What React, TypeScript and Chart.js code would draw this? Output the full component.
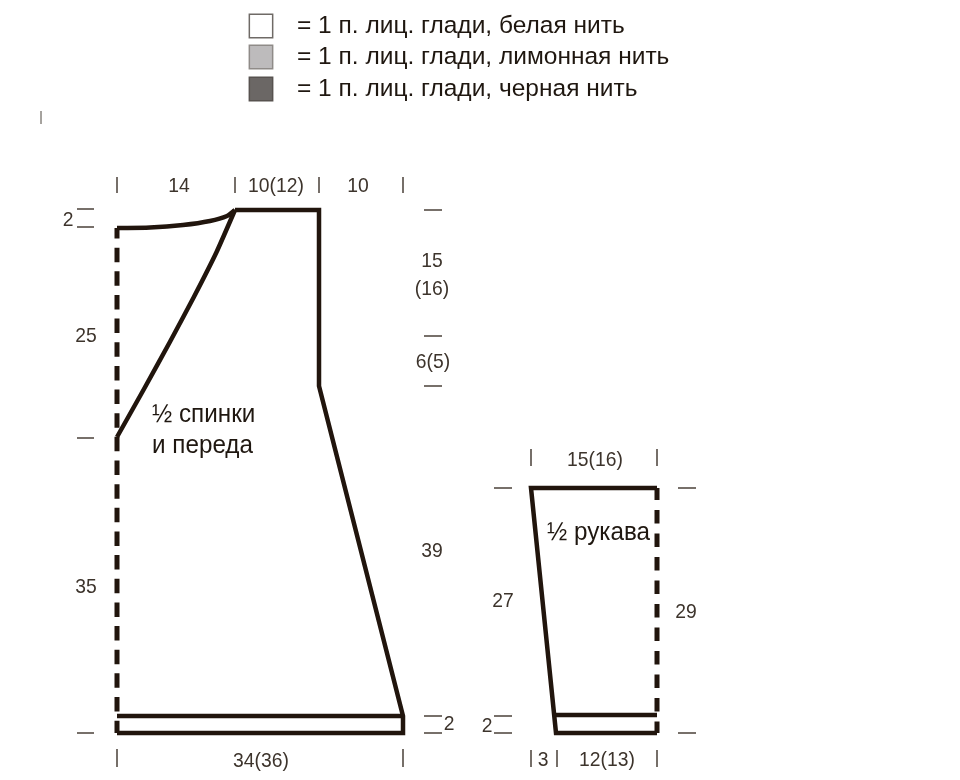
import React, { useEffect, useRef } from "react";
import { Chart, registerables } from "chart.js";

Chart.register(...registerables);

const W = 960;
const H = 780;
const INK = "#21150d";
const TICK = "#4a4038";
const TEXT = "#3d342c";
const DARK = "#1f1710";

// garment outlines (drawing units)
const backOutlineX = [235, 319, 319, 403, 403, 117];
const backOutlineY = [210, 210, 386, 716, 733, 733];
const hemX = [117, 403];
const hemY = [716, 716];
const neckX = [117, 150, 183, 210, 227, 235];
const neckY = [228, 227.5, 225, 221, 216, 210];
const armholeX = [235, 216.7, 194, 170, 144, 117];
const armholeY = [210, 251.7, 296.7, 341.7, 389, 437];
const foldX = [117, 117];
const foldY = [228, 733];
const sleeveX = [657, 531, 556, 657];
const sleeveY = [488, 488, 733, 733];
const sleeveHemX = [556, 657];
const sleeveHemY = [715, 715];
const sleeveFoldX = [657, 657];
const sleeveFoldY = [488, 733];

// dimension ticks: [x1, y1, x2, y2]
const dimensionTicks = [
  [117, 177, 117, 193], [235, 177, 235, 193], [319, 177, 319, 193], [403, 177, 403, 193],
  [77, 209, 94, 209], [77, 227, 94, 227], [77, 438, 94, 438], [77, 733, 94, 733],
  [424, 210, 442, 210], [424, 336, 442, 336], [424, 386, 442, 386],
  [424, 716, 442, 716], [424, 733, 442, 733],
  [117, 749, 117, 767], [403, 749, 403, 767],
  [531, 449, 531, 466], [657, 449, 657, 466],
  [494, 488, 512, 488], [678, 488, 696, 488], [678, 733, 696, 733],
  [494, 716, 512, 716], [494, 733, 512, 733],
  [531, 750, 531, 767], [557, 750, 557, 767], [657, 750, 657, 767],
];
const strayMark = [41, 111, 41, 124];

// legend
const legendLabels = [
  "= 1 п. лиц. глади, белая нить",
  "= 1 п. лиц. глади, лимонная нить",
  "= 1 п. лиц. глади, черная нить",
];
const legendSwatchX = [261, 261, 261];
const legendSwatchY = [26, 57, 89];
const legendFills = ["#ffffff", "#bdbbbc", "#6b6765"];
const legendStrokes = ["#6f6a66", "#8f8b88", "#57524f"];

const dimensionLabels: [string, number, number][] = [
  ["14", 179, 186], ["10(12)", 276, 186], ["10", 358, 186],
  ["2", 68, 220], ["25", 86, 336], ["35", 86, 587],
  ["15", 432, 261], ["(16)", 432, 289], ["6(5)", 433, 362], ["39", 432, 551],
  ["2", 449, 724], ["34(36)", 261, 761],
  ["15(16)", 595, 460], ["27", 503, 601], ["29", 686, 612], ["2", 487, 726],
  ["3", 543, 760], ["12(13)", 607, 760],
];
const partLabels: [string, number, number][] = [
  ["½ спинки", 152, 415], ["и переда", 152, 446], ["½ рукава", 547, 533],
];

const zip = (xs: number[], ys: number[]) => xs.map((x, i) => ({ x, y: ys[i] }));
const line = (data: { x: number; y: number }[], extra: object = {}) => ({
  type: "scatter" as const,
  data,
  showLine: true,
  pointRadius: 0,
  borderColor: INK,
  borderWidth: 4.5,
  borderJoinStyle: "miter" as const,
  ...extra,
});

export default function App() {
  const ref = useRef<HTMLCanvasElement>(null);
  useEffect(() => {
    const textPlugin = {
      id: "schematicText",
      afterDatasetsDraw(chart: any) {
        const { ctx, scales } = chart;
        ctx.save();
        ctx.textBaseline = "middle";
        const put = (
          t: string, x: number, y: number, align: CanvasTextAlign,
          size: number, stretch: number, color: string
        ) => {
          ctx.save();
          ctx.font = `${size}px "Liberation Sans", Arial, sans-serif`;
          ctx.fillStyle = color;
          ctx.textAlign = align;
          ctx.translate(scales.x.getPixelForValue(x), scales.y.getPixelForValue(y));
          ctx.scale(stretch, 1);
          ctx.fillText(t, 0, 0);
          ctx.restore();
        };
        dimensionLabels.forEach(([t, x, y]) => put(t, x, y, "center", 21, 0.92, TEXT));
        partLabels.forEach(([t, x, y]) => put(t, x, y, "left", 25, 0.97, DARK));
        legendLabels.forEach((t, i) => put(t, 297, legendSwatchY[i], "left", 24.5, 1, DARK));
        ctx.restore();
      },
    };
    const chart = new Chart(ref.current!, {
      type: "scatter",
      data: {
        datasets: [
          line(zip(backOutlineX, backOutlineY)),
          line(zip(hemX, hemY)),
          line(zip(neckX, neckY), { tension: 0.3 }),
          line(zip(armholeX, armholeY), { tension: 0.2 }),
          line(zip(foldX, foldY), { borderDash: [14.5, 9.15], borderDashOffset: 4, borderWidth: 5 }),
          line(zip(sleeveX, sleeveY)),
          line(zip(sleeveHemX, sleeveHemY)),
          line(zip(sleeveFoldX, sleeveFoldY), { borderDash: [13.5, 10], borderDashOffset: 1.5, borderWidth: 5 }),
          ...dimensionTicks.map(([a, b, c, d]) =>
            line([{ x: a, y: b }, { x: c, y: d }], { borderColor: TICK, borderWidth: 1.5 })
          ),
          line([{ x: strayMark[0], y: strayMark[1] }, { x: strayMark[2], y: strayMark[3] }], {
            borderColor: "#9a9691",
            borderWidth: 1,
          }),
          {
            type: "scatter" as const,
            data: zip(legendSwatchX, legendSwatchY),
            showLine: false,
            pointStyle: "rect",
            pointRadius: 16.5,
            pointBackgroundColor: legendFills,
            pointBorderColor: legendStrokes,
            pointBorderWidth: 1.5,
          },
        ],
      } as any,
      options: {
        responsive: false,
        animation: false,
        devicePixelRatio: 1,
        layout: { padding: 0, autoPadding: false },
        plugins: { legend: { display: false }, tooltip: { enabled: false } },
        scales: {
          x: { type: "linear", min: 0, max: W, display: false },
          y: { type: "linear", min: 0, max: H, reverse: true, display: false },
        },
      },
      plugins: [textPlugin],
    });
    return () => chart.destroy();
  }, []);
  return (
    <div style={{ position: "fixed", left: 0, top: 0, width: W, height: H, background: "#fff" }}>
      <canvas ref={ref} width={W} height={H} style={{ display: "block" }} />
    </div>
  );
}
